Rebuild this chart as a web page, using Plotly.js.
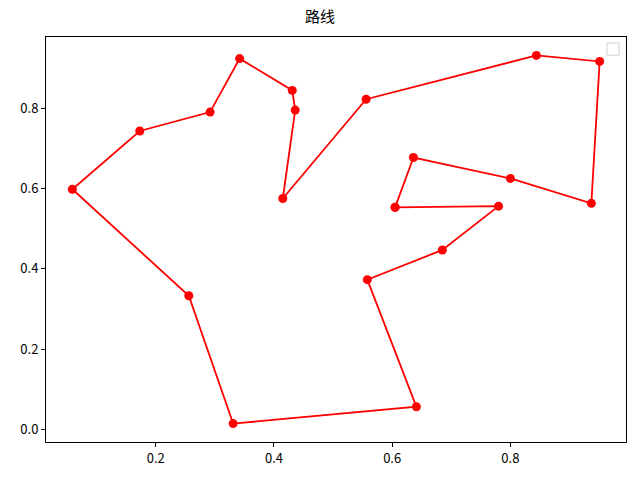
<!DOCTYPE html>
<html>
<head>
<meta charset="utf-8">
<script src="https://cdn.plot.ly/plotly-3.0.1.min.js"></script>
<style>html,body{margin:0;padding:0;background:#fff;}#chart{width:640px;height:480px;}</style>
</head>
<body>
<div id="chart"></div>
<script>
const routeX = [0.605, 0.780, 0.685, 0.558, 0.641, 0.331, 0.256, 0.059, 0.173, 0.292, 0.342, 0.431, 0.436, 0.415, 0.556, 0.844, 0.951, 0.937, 0.800, 0.636, 0.605];
const routeY = [0.553, 0.556, 0.447, 0.373, 0.057, 0.015, 0.333, 0.598, 0.743, 0.790, 0.923, 0.844, 0.795, 0.575, 0.822, 0.931, 0.916, 0.563, 0.625, 0.677, 0.553];
const xTicks = [0.2, 0.4, 0.6, 0.8];
const yTicks = [0.0, 0.2, 0.4, 0.6, 0.8];
const titleText = '路线';

const font = "'Noto Sans CJK SC', 'DejaVu Sans', sans-serif";
const xmin = Math.min(...routeX), xmax = Math.max(...routeX);
const ymin = Math.min(...routeY), ymax = Math.max(...routeY);
const xp = (xmax - xmin) * 0.05, yp = (ymax - ymin) * 0.05;

const trace = {
  x: routeX, y: routeY, mode: 'lines+markers', type: 'scatter',
  line: {color: '#ff0000', width: 1.8},
  marker: {color: '#ff0000', size: 9},
  showlegend: false, hoverinfo: 'skip'
};

const axisCommon = {
  showgrid: false, zeroline: false, showline: true, mirror: true,
  linecolor: '#000', linewidth: 1, ticks: 'outside', ticklen: 4, tickcolor: '#000',
  tickfont: {family: font, size: 13, color: '#000'}
};

const layout = {
  width: 640, height: 480,
  margin: {l: 46, r: 14, t: 37, b: 38},
  paper_bgcolor: '#fff', plot_bgcolor: '#fff',
  title: {text: titleText, font: {family: font, size: 15, color: '#000'}, x: 0.5, xanchor: 'center', y: 0.965, yanchor: 'middle'},
  xaxis: Object.assign({}, axisCommon, {range: [xmin - xp, xmax + xp], tickvals: xTicks, ticktext: xTicks.map(v => v.toFixed(1))}),
  yaxis: Object.assign({}, axisCommon, {range: [ymin - yp, ymax + yp], tickvals: yTicks, ticktext: yTicks.map(v => v.toFixed(1))}),
  shapes: [{
    type: 'rect', xref: 'paper', yref: 'paper',
    x0: 0.967, x1: 0.988, y0: 0.955, y1: 0.985,
    line: {color: '#d0d0d0', width: 1}, fillcolor: 'rgba(255,255,255,0.8)'
  }]
};

Plotly.newPlot('chart', [trace], layout, {displayModeBar: false, staticPlot: true});
</script>
</body>
</html>
